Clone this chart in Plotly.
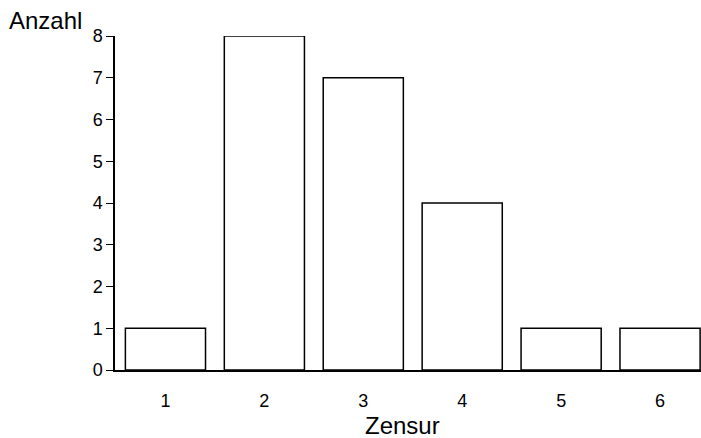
import plotly.graph_objects as go

categories = [1, 2, 3, 4, 5, 6]
counts = [1, 8, 7, 4, 1, 1]
y_ticks = [0, 1, 2, 3, 4, 5, 6, 7, 8]
x_title = "Zensur"
y_title = "Anzahl"

W, H = 701, 438
L, R, T, B = 115, 0, 36, 68
pw, ph = W - L - R, H - T - B

def px_x(px):
    return (px - L) / pw

def px_y(py):
    return (H - B - py) / ph

fig = go.Figure()
fig.add_trace(go.Bar(
    x=categories, y=counts, width=0.81,
    marker=dict(color="white", line=dict(color="black", width=1.5)),
    showlegend=False, hoverinfo="skip",
))

font = "Liberation Sans, Arial, sans-serif"
fig.update_layout(
    width=W, height=H,
    margin=dict(l=L, r=R, t=T, b=B),
    paper_bgcolor="white", plot_bgcolor="white",
    font=dict(family=font, color="black"),
    xaxis=dict(
        range=[0.49, 6.414], tickvals=categories, ticktext=[str(c) for c in categories],
        showgrid=False, zeroline=False, showline=True, linecolor="black", linewidth=1.5,
        ticks="", tickfont=dict(size=18, family=font, color="black"), ticklabelstandoff=14,
    ),
    yaxis=dict(
        range=[0, 8], tickvals=y_ticks, showgrid=False, zeroline=False,
        showline=True, linecolor="black", linewidth=1.5,
        ticks="outside", ticklen=7, tickwidth=1.2, tickcolor="black",
        tickfont=dict(size=18, family=font, color="black"),
    ),
    annotations=[
        dict(text=y_title, xref="paper", yref="paper", x=px_x(7), y=px_y(20),
             xanchor="left", yanchor="middle", showarrow=False,
             font=dict(size=24, family=font, color="black")),
        dict(text=x_title, xref="paper", yref="paper", x=px_x(402), y=px_y(425),
             xanchor="center", yanchor="middle", showarrow=False,
             font=dict(size=24, family=font, color="black")),
    ],
)

fig.write_html(
    "out.html",
    config={"displayModeBar": False},
    post_script="document.body.style.margin='0';document.body.style.overflow='hidden';",
)
